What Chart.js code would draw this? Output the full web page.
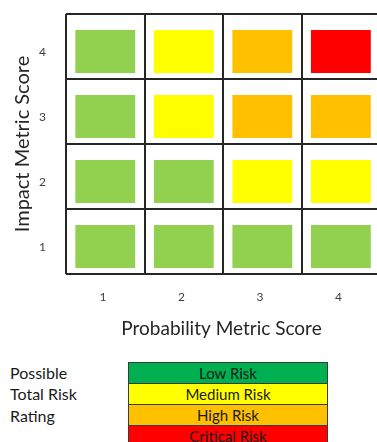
<!DOCTYPE html>
<html>
<head>
<meta charset="utf-8">
<script src="https://cdn.jsdelivr.net/npm/chart.js@4/dist/chart.umd.min.js"></script>
<style>
  html, body { margin: 0; padding: 0; background: #fff; width: 377px; height: 442px; overflow: hidden; }
  #plot { position: absolute; left: 0; top: 0; width: 377px; height: 344px; }
  #keyTitle { position: absolute; left: 10px; top: 362px; font: 16px Lato, sans-serif; color: #1a1a1a; line-height: 21.3px; }
  #keyTable { position: absolute; left: 128px; top: 362px; border-collapse: collapse; width: 200px; font: 15px Lato, sans-serif; color: #1a1a1a; }
  #keyTable td { border: 1px solid #3a3a3a; height: 20px; padding: 0; text-align: center; line-height: 20px; }
</style>
</head>
<body>
<div id="plot"><canvas id="matrix" width="377" height="344"></canvas></div>
<div id="keyTitle"></div>
<table id="keyTable"></table>
<script>
// Axis categories
const probabilityLabels = ['1', '2', '3', '4'];
const impactLabels = ['1', '2', '3', '4'];

// Risk ratings, lowest to highest
const riskNames = ['Low Risk', 'Medium Risk', 'High Risk', 'Critical Risk'];
const cellColors = ['#92D050', '#FFFF00', '#FFC000', '#FF0000'];
const keyColors = ['#00B050', '#FFFF00', '#FFC000', '#FF0000'];
const keyHeading = ['Possible', 'Total Risk', 'Rating'];

// Risk rating index for each probability score (1..4), one array per impact score
const impact1 = [0, 0, 0, 0];
const impact2 = [0, 0, 1, 1];
const impact3 = [0, 1, 2, 2];
const impact4 = [0, 1, 2, 3];
const impactRows = [impact1, impact2, impact3, impact4];

// Inset of each coloured block inside its cell (fraction of a row)
const INSET_BOTTOM = 0.092;
const INSET_TOP = 0.246;
const Y_LABEL_OFFSET = 0.41;
const X_LABEL_OFFSET = -0.03;
// The last probability column runs slightly past the right edge of the canvas
const X_MAX = 4.46;

const INK = '#262626';
const LABEL_FONT = { family: 'Lato', size: 12 };
const TITLE_FONT = { family: 'Lato', size: 19 };

const datasets = impactRows.map((row, i) => ({
  label: 'Impact ' + impactLabels[i],
  data: row.map((_, j) => ({ x: j + 1, y: [i + INSET_BOTTOM, i + 1 - INSET_TOP] })),
  backgroundColor: row.map(level => cellColors[level]),
  borderWidth: 0,
  borderSkipped: false,
  grouped: false,
  barPercentage: 0.762,
  categoryPercentage: 1
}));

new Chart(document.getElementById('matrix'), {
  type: 'bar',
  data: { datasets },
  options: {
    responsive: false,
    animation: false,
    layout: { padding: { top: 14, right: 0, bottom: 0, left: 0 } },
    plugins: { legend: { display: false }, tooltip: { enabled: false } },
    scales: {
      // Cell boundaries (vertical lines)
      x: {
        type: 'linear', offset: false, min: 0.5, max: X_MAX,
        afterBuildTicks: scale => {
          scale.ticks = probabilityLabels.map((_, j) => ({ value: j + 0.5 }));
        },
        grid: { offset: false, color: INK, lineWidth: 2, drawTicks: false },
        border: { display: false },
        ticks: { display: false },
        afterFit: scale => { scale.height = 0; scale.paddingLeft = 0; scale.paddingRight = 0; }
      },
      // Probability score labels and axis title
      xLabels: {
        type: 'linear', position: 'bottom', offset: false, min: 0.5, max: X_MAX,
        afterBuildTicks: scale => {
          scale.ticks = probabilityLabels.map((_, j) => ({ value: j + 1 + X_LABEL_OFFSET }));
        },
        grid: { display: false, drawTicks: false },
        border: { display: false },
        ticks: {
          color: '#404040', font: LABEL_FONT, padding: 16, autoSkip: false, maxRotation: 0,
          callback: value => probabilityLabels[Math.round(value) - 1]
        },
        title: {
          display: true, text: 'Probability Metric Score', color: INK,
          font: TITLE_FONT, padding: { top: 4, bottom: 4 }
        },
        afterFit: scale => { scale.height = 70; scale.paddingLeft = 0; scale.paddingRight = 0; }
      },
      // Cell boundaries (horizontal lines)
      y: {
        type: 'linear', min: 0, max: impactLabels.length,
        afterBuildTicks: scale => {
          const ticks = [];
          for (let i = 0; i <= impactLabels.length; i++) ticks.push({ value: i });
          scale.ticks = ticks;
        },
        grid: { color: INK, lineWidth: 2, drawTicks: false },
        border: { display: false },
        ticks: { display: false },
        afterFit: scale => { scale.width = 0; scale.paddingTop = 0; scale.paddingBottom = 0; }
      },
      // Impact score labels and axis title
      yLabels: {
        type: 'linear', position: 'left', min: 0, max: impactLabels.length,
        afterBuildTicks: scale => {
          scale.ticks = impactLabels.map((_, i) => ({ value: i + Y_LABEL_OFFSET }));
        },
        grid: { display: false, drawTicks: false },
        border: { display: false },
        ticks: {
          color: '#404040', font: LABEL_FONT, padding: 20, autoSkip: false,
          callback: value => impactLabels[Math.floor(value)]
        },
        title: {
          display: true, text: 'Impact Metric Score', color: INK,
          font: { family: 'Lato', size: 20 }, padding: { top: 11, bottom: 0 }
        },
        afterFit: scale => { scale.width = 66; scale.paddingTop = 0; scale.paddingBottom = 0; }
      }
    }
  }
});

// Rating key
document.getElementById('keyTitle').innerHTML = keyHeading.join('<br>');
const table = document.getElementById('keyTable');
riskNames.forEach((name, i) => {
  const tr = document.createElement('tr');
  const td = document.createElement('td');
  td.textContent = name;
  td.style.background = keyColors[i];
  tr.appendChild(td);
  table.appendChild(tr);
});
</script>
</body>
</html>
